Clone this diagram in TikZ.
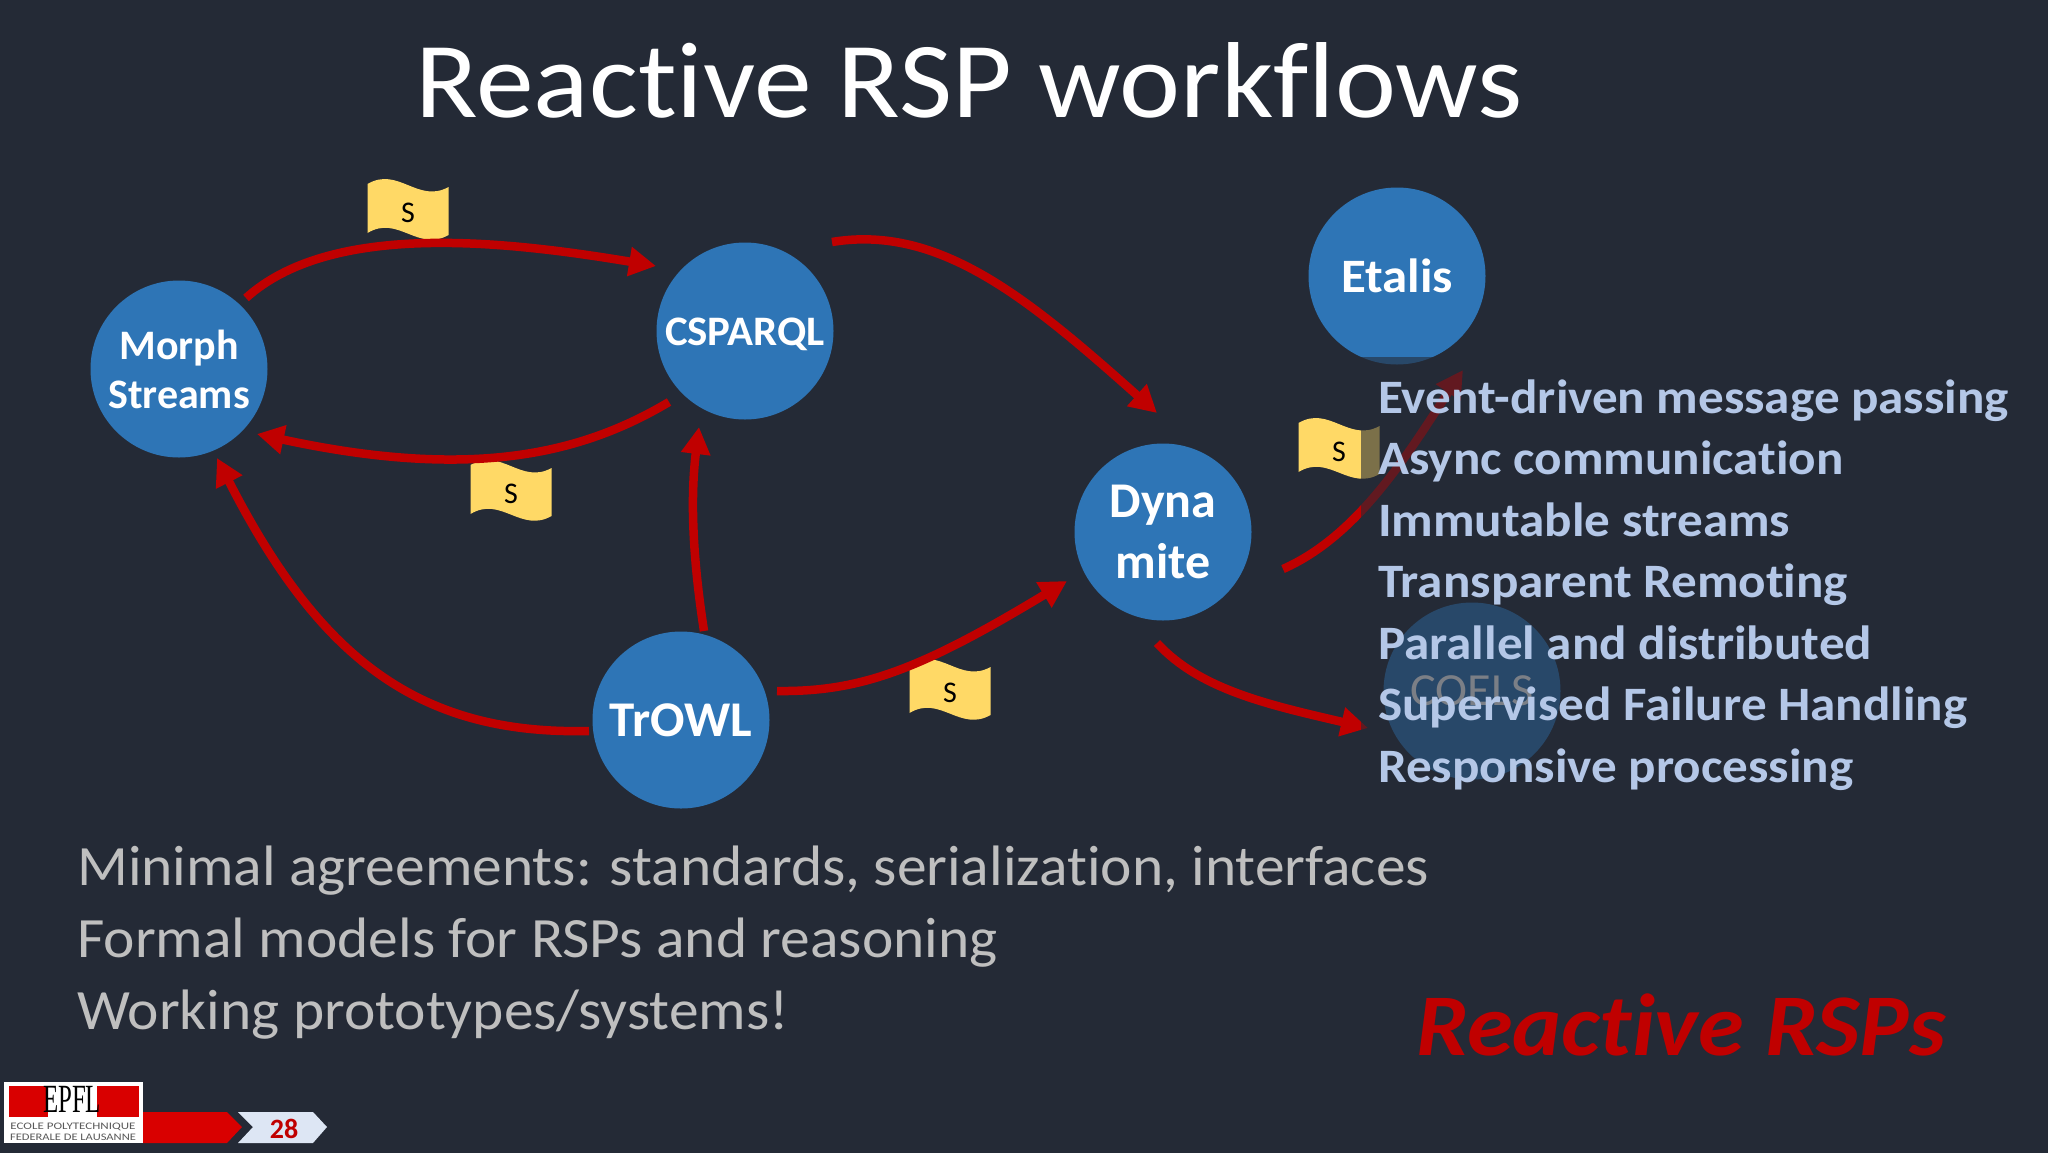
\documentclass[tikz,border=0pt]{standalone}
\usepackage{fontspec}
\setmainfont{Carlito}[Ligatures=NoCommon]
\usetikzlibrary{arrows.meta}
\definecolor{bgc}{HTML}{242A36}
\definecolor{blueC}{HTML}{2E75B6}
\definecolor{redC}{HTML}{C00000}
\definecolor{listC}{HTML}{B4C7E7}
\definecolor{greyC}{HTML}{BFBFBF}
\definecolor{flagC}{HTML}{FFD966}
\newcommand{\fsz}[1]{\fontsize{#1pt}{#1pt}\selectfont}
\newcommand{\wider}[1]{\addfontfeature{FakeStretch=#1}}
\tikzset{
  x=1pt,y=-1pt,
  proc/.style={circle,fill=blueC,minimum size=177pt,inner sep=0pt,align=center,text=white,font=\bfseries\fsz{42}},
  flow/.style={draw=redC,line width=8.5pt,-{Triangle[length=27pt,width=28pt]}},
  listline/.style={anchor=base west,inner sep=0pt,text=listC,font=\bfseries\fsz{48}\wider{1.065}},
  bodyline/.style={anchor=base west,inner sep=0pt,text=greyC,font=\fsz{57}\wider{1.043}},
  flagbox/.pic={
    \fill[flagC] (-40.5,-26) .. controls (-10,-44) and (10,-6) .. (40.5,-23)
      -- (40.5,25) .. controls (10,42.5) and (-10,4.5) .. (-40.5,23) -- cycle;
    \node[text=black,inner sep=0pt,font=\fsz{30}] (-s) at (0,3) {S};
  }
}
\begin{document}
\begin{tikzpicture}
\useasboundingbox (0,0) rectangle (2048,1152);
\fill[bgc] (-3,-3) rectangle (2051,1155);

\node[anchor=base,inner sep=0pt,text=white,font=\fsz{108}\wider{1.07}] (title) at (969,117) {Reactive RSP workflows};

\node[proc] (morph) at (179,369) {Morph\\[7pt]Streams};
\node[proc,text depth=0pt] (csparql) at (745,331) {\raisebox{-2pt}{\bfseries\fsz{42}\wider{1.02}CSPARQL}};
\node[proc,font=\bfseries\fsz{50}] (dyna) at (1163,532) {\rule{0pt}{0pt}\raisebox{-1pt}{Dyna}\\[11pt]\raisebox{-1pt}{mite}};
\node[proc,font=\bfseries\fsz{50}\wider{1.02}] (trowl) at (681,720) {TrOWL};
\node[proc,font=\bfseries\fsz{48}\wider{1.06}] (etalis) at (1397,276) {Etalis};
\node[proc,font=\fsz{46}\wider{1.05}] (coels) at (1472,691) {COELS};

\pic (f1) at (408,210) {flagbox};
\pic (f2) at (511,491) {flagbox};
\pic (f3) at (950,690) {flagbox};
\pic (f4) at (1339,449) {flagbox};

\draw[flow] ([shift={(67,-71)}]morph.center) .. controls (330,222) and (500,240) .. ([shift={(-89,-65)}]csparql.center);
\draw[flow] ([shift={(-76,71)}]csparql.center) .. controls (580,455) and (470,480) .. ([shift={(78,65)}]morph.center);
\draw[flow] ([shift={(87,-89)}]csparql.center) .. controls (940,224) and (1030,300) .. ([shift={(-6,-119)}]dyna.center);
\draw[flow] ([shift={(23,-89)}]trowl.center) .. controls (693,560) and (690,500) .. ([shift={(-46,96)}]csparql.center);
\draw[flow] ([shift={(-92,11)}]trowl.center) .. controls (420,735) and (320,660) .. ([shift={(38,89)}]morph.center);
\draw[flow] ([shift={(96,-29)}]trowl.center) .. controls (860,692) and (920,670) .. ([shift={(-96,49)}]dyna.center);
\draw[flow] ([shift={(120,37)}]dyna.center) .. controls (1360,535) and (1410,450) .. ([shift={(66,94)}]etalis.center);
\draw[flow] ([shift={(-6,111)}]dyna.center) .. controls (1200,690) and (1270,705) .. ([shift={(-104,37)}]coels.center);

\fill[bgc,opacity=.6] (1361,357) rectangle (2048,800);

\node[listline] (l1) at (1378,413) {Event-driven message passing};
\node[listline] (l2) at (1378,474) {Async communication};
\node[listline] (l3) at (1378,536) {Immutable streams};
\node[listline] (l4) at (1378,597) {Transparent Remoting};
\node[listline] (l5) at (1378,659) {Parallel and distributed};
\node[listline] (l6) at (1378,720) {Supervised Failure Handling};
\node[listline] (l7) at (1378,782) {Responsive processing};

\node[bodyline] (b1) at (77,885) {Minimal agreements: standards, serialization, interfaces};
\node[bodyline] (b2) at (77,957) {Formal models for RSPs and reasoning};
\node[bodyline] (b3) at (77,1029) {Working prototypes/systems!};

\node[anchor=base west,inner sep=0pt,text=redC,font=\bfseries\itshape\fsz{88}\wider{1.055}] (react) at (1416,1055) {Reactive RSPs};

% footer
\fill[white] (4,1082) rectangle (143,1143);
\fill[red!85!black] (9,1086) rectangle (48,1117);
\fill[red!85!black] (97,1086) rectangle (139,1117);
\node[inner sep=0pt,text=black] (logo) at (72,1099) {\fontspec{Liberation Serif}\fsz{40}\scalebox{.62}[1]{EPFL}};
\node[inner sep=0pt,text=gray!70!black,font=\fsz{10}\wider{1.3}] (logo2) at (73,1127) {ECOLE POLYTECHNIQUE};
\node[inner sep=0pt,text=gray!70!black,font=\fsz{10}\wider{1.25}] (logo3) at (73,1137) {FEDERALE DE LAUSANNE};
\fill[red!85!black] (143,1112) -- (227,1112) -- (242,1127) -- (227,1143) -- (143,1143) -- cycle;
\fill[listC!45!white] (238,1112) -- (313,1112) -- (327,1127) -- (313,1143) -- (238,1143) -- (253,1127) -- cycle;
\node[inner sep=0pt,text=redC,font=\bfseries\fsz{28}] (page) at (284,1129) {28};
\end{tikzpicture}
\end{document}
